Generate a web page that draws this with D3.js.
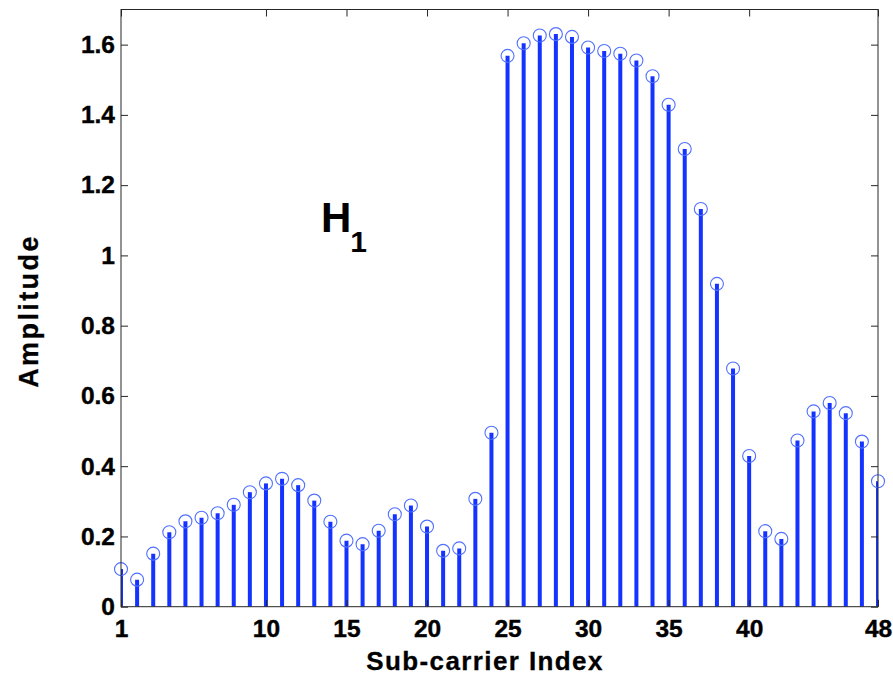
<!DOCTYPE html>
<html><head><meta charset="utf-8">
<script src="https://cdn.jsdelivr.net/npm/d3@7"></script>
<style>body{margin:0;background:#fff}svg{display:block}</style>
</head><body>
<script>
const subcarriers = d3.range(1, 49);
const amplitude = [0.107,0.077,0.151,0.212,0.243,0.253,0.266,0.290,0.326,0.351,0.364,0.346,0.302,0.242,0.188,0.178,0.216,0.263,0.288,0.228,0.159,0.166,0.307,0.495,
  1.568,1.604,1.626,1.630,1.622,1.592,1.582,1.574,1.555,1.510,1.429,1.303,1.132,0.919,0.678,0.429,0.215,0.193,0.473,0.556,0.580,0.551,0.470,0.357];
const xTicks = [1,10,15,20,25,30,35,40,48];
const yTicks = [0,0.2,0.4,0.6,0.8,1,1.2,1.4,1.6];

const W = 893, H = 678;
const m = {left:121, right:878, top:9.5, bottom:606.7};
const svg = d3.select("body").append("svg").attr("width",W).attr("height",H);
const x = d3.scaleLinear().domain([1,48]).range([m.left,m.right]);
const y = d3.scaleLinear().domain([0,1.7]).range([m.bottom,m.top]);
const font = "'Liberation Sans', Arial, sans-serif";

svg.append("defs").append("clipPath").attr("id","clip")
  .append("rect").attr("x",m.left).attr("y",m.top).attr("width",m.right-m.left).attr("height",m.bottom-m.top);

const g = svg.append("g").attr("clip-path","url(#clip)");
const data = subcarriers.map((s,i)=>({s, v:amplitude[i]}));
g.selectAll("line.stem").data(data).join("line").attr("class","stem")
  .attr("x1",d=>x(d.s)).attr("x2",d=>x(d.s)).attr("y1",y(0)).attr("y2",d=>y(d.v))
  .attr("stroke","#1433ff").attr("stroke-width",4);
svg.selectAll("circle.mk").data(data).join("circle").attr("class","mk")
  .attr("cx",d=>x(d.s)).attr("cy",d=>y(d.v)).attr("r",6.5)
  .attr("fill","none").attr("stroke","#5070ff").attr("stroke-width",1.1);

const axisColor = "#262626";
const tickLen = 7;
function styleAxis(sel){
  sel.select(".domain").remove();
  sel.selectAll(".tick line").attr("stroke",axisColor).attr("stroke-width",1);
  sel.selectAll(".tick text").attr("font-family",font).attr("font-weight","bold").attr("font-size",24.5)
    .attr("fill","#000").attr("stroke","#000").attr("stroke-width",0.4);
}
// bottom
const xb = svg.append("g").attr("transform",`translate(0,${m.bottom})`)
  .call(d3.axisBottom(x).tickValues(xTicks).tickSize(-tickLen).tickPadding(13).tickFormat(d3.format("d")));
styleAxis(xb);
xb.selectAll(".tick text").attr("dy","0.71em");
// top
const xt = svg.append("g").attr("transform",`translate(0,${m.top})`)
  .call(d3.axisTop(x).tickValues(xTicks).tickSize(-tickLen).tickFormat(""));
styleAxis(xt);
// left
const yl = svg.append("g").attr("transform",`translate(${m.left},0)`)
  .call(d3.axisLeft(y).tickValues(yTicks).tickSize(-tickLen).tickPadding(6).tickFormat(d=>d===0?"0":(d===1?"1":d3.format(".1f")(d))));
styleAxis(yl);
// right
const yr = svg.append("g").attr("transform",`translate(${m.right},0)`)
  .call(d3.axisRight(y).tickValues(yTicks).tickSize(-tickLen).tickFormat(""));
styleAxis(yr);

svg.append("rect").attr("x",m.left).attr("y",m.top).attr("width",m.right-m.left).attr("height",m.bottom-m.top)
  .attr("fill","none").attr("stroke",axisColor).attr("stroke-width",1);

svg.append("text").attr("x",485).attr("y",670)
  .attr("text-anchor","middle").attr("font-family",font).attr("font-weight","bold").attr("font-size",26)
  .attr("letter-spacing",1.4).attr("stroke","#000").attr("stroke-width",0.3).text("Sub-carrier Index");
svg.append("text").attr("transform","translate(38,311) rotate(-90)")
  .attr("text-anchor","middle").attr("font-family",font).attr("font-weight","bold").attr("font-size",27)
  .attr("letter-spacing",2.4).attr("stroke","#000").attr("stroke-width",0.3).text("Amplitude");

const h = svg.append("text").attr("x",321).attr("y",232).attr("font-family",font).attr("font-weight","bold").attr("font-size",42);
h.append("tspan").text("H");
h.append("tspan").attr("font-size",30).attr("dx",-1).attr("dy",20).text("1");
</script>
</body></html>
